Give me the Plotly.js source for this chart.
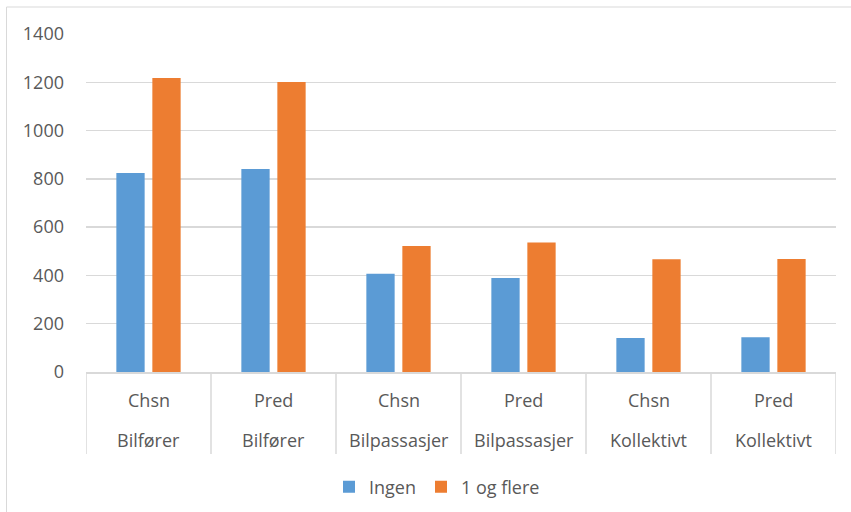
<!DOCTYPE html>
<html>
<head>
<meta charset="utf-8">
<script src="https://cdn.plot.ly/plotly-3.0.1.min.js"></script>
<style>
  html, body { margin: 0; padding: 0; background: #ffffff; }
  #chart { width: 851px; height: 512px; }
</style>
</head>
<body>
<div id="chart"></div>
<script>
// ---- Data ----
const measures = ["Chsn", "Pred", "Chsn", "Pred", "Chsn", "Pred"];
const groups = ["Bilfører", "Bilfører", "Bilpassasjer", "Bilpassasjer", "Kollektivt", "Kollektivt"];
const ingen = [824, 841, 407, 389, 141, 144];
const enOgFlere = [1218, 1201, 522, 536, 467, 468];
const seriesNames = ["Ingen", "1 og flere"];
const yTicks = [0, 200, 400, 600, 800, 1000, 1200, 1400];

// ---- Build chart ----
const categories = measures.map((m, i) => m + " " + groups[i]);
const textColor = "#595959";
const gridColor = "#d9d9d9";
const font = "Open Sans, Liberation Sans, sans-serif";

const traces = [
  { type: "bar", name: seriesNames[0], x: categories, y: ingen,
    marker: { color: "#5B9BD5" } },
  { type: "bar", name: seriesNames[1], x: categories, y: enOgFlere,
    marker: { color: "#ED7D31" } }
];

// plot area: x 86..836 px, y 34..372 px
const plotW = 750, plotH = 338;
const pxY = (py) => (372 - py) / plotH;       // page px -> paper y
const pxX = (px) => (px - 86) / plotW;        // page px -> paper x

const shapes = [];
// outer chart border
shapes.push({ type: "rect", xref: "paper", yref: "paper",
  x0: pxX(6.5), x1: pxX(860), y0: pxY(520), y1: pxY(7),
  line: { color: gridColor, width: 1 }, fillcolor: "rgba(0,0,0,0)", layer: "below" });
// category divider lines below axis
for (let i = 0; i <= categories.length; i++) {
  shapes.push({ type: "line", xref: "x", yref: "paper",
    x0: i - 0.5, x1: i - 0.5, y0: 0, y1: pxY(454),
    line: { color: gridColor, width: 1.5 } });
}

const annotations = [];
categories.forEach((c, i) => {
  annotations.push({ xref: "x", yref: "paper", x: c, y: pxY(400), text: measures[i],
    showarrow: false, xanchor: "center", yanchor: "middle",
    font: { family: font, size: 18, color: textColor } });
  annotations.push({ xref: "x", yref: "paper", x: c, y: pxY(440), text: groups[i],
    showarrow: false, xanchor: "center", yanchor: "middle",
    font: { family: font, size: 18, color: textColor } });
});

const layout = {
  width: 851, height: 512,
  margin: { l: 86, r: 15, t: 34, b: 140, pad: 0, autoexpand: false },
  paper_bgcolor: "#ffffff", plot_bgcolor: "#ffffff",
  font: { family: font, size: 18, color: textColor },
  barmode: "group",
  bargap: 0.424,
  bargroupgap: 0.214,
  showlegend: true,
  legend: { orientation: "h", xref: "container", yref: "container",
    x: 437 / 851, xanchor: "center", y: (512 - 487) / 512, yanchor: "middle",
    font: { family: font, size: 18, color: textColor }, bgcolor: "rgba(0,0,0,0)" },
  xaxis: {
    type: "category", range: [-0.5, 5.5],
    showticklabels: false, ticks: "",
    showgrid: false, zeroline: false,
    showline: true, linecolor: gridColor, linewidth: 1.5
  },
  yaxis: {
    range: [0, 1400], tickvals: yTicks, ticktext: yTicks.map(String),
    showgrid: true, gridcolor: gridColor, gridwidth: 1.5,
    zeroline: false, showline: false, ticks: "",
    ticklabelstandoff: 21,
    tickfont: { family: font, size: 18, color: textColor }
  },
  shapes: shapes,
  annotations: annotations
};

Plotly.newPlot("chart", traces, layout, { displayModeBar: false, staticPlot: true });
</script>
</body>
</html>
